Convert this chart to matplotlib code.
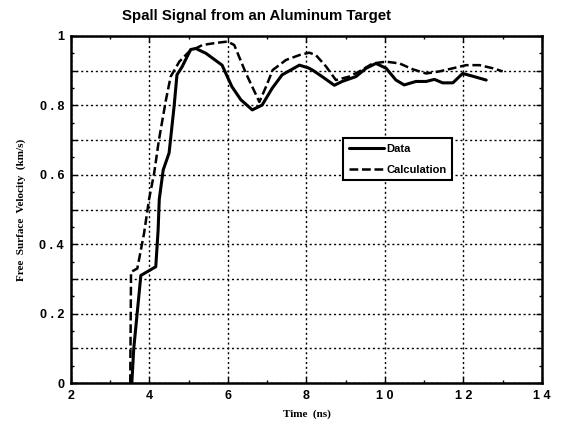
import numpy as np
import matplotlib
matplotlib.use("Agg")
import matplotlib.pyplot as plt
from matplotlib.ticker import MultipleLocator, FixedLocator

# Data (measured) curve
t_data = [3.55, 3.60, 3.78, 4.16, 4.22, 4.25, 4.35, 4.50, 4.63, 4.70, 4.83, 5.05,
          5.18, 5.44, 5.85, 6.10, 6.33, 6.62, 6.87, 7.13, 7.38, 7.82, 8.05, 8.15,
          8.40, 8.71, 8.91, 9.26, 9.52, 9.77, 10.03, 10.28, 10.49, 10.79, 11.05,
          11.26, 11.47, 11.73, 11.98, 12.24, 12.58]
v_data = [0.0, 0.10, 0.31, 0.335, 0.44, 0.53, 0.614, 0.663, 0.80, 0.888, 0.911, 0.961,
          0.964, 0.95, 0.916, 0.854, 0.816, 0.787, 0.801, 0.85, 0.888, 0.916, 0.908, 0.902,
          0.883, 0.858, 0.869, 0.883, 0.907, 0.921, 0.907, 0.873, 0.859, 0.869, 0.869,
          0.875, 0.865, 0.865, 0.892, 0.884, 0.873]

# Calculation curve
t_calc = [3.51, 3.53, 3.69, 3.86, 3.99, 4.12, 4.24, 4.42, 4.54, 4.76, 5.01, 5.35,
          5.69, 5.99, 6.16, 6.46, 6.80, 6.97, 7.14, 7.48, 7.82, 8.07, 8.24, 8.50,
          8.75, 9.09, 9.35, 9.69, 10.03, 10.37, 10.71, 11.05, 11.39, 11.73, 12.07,
          12.41, 12.75, 13.0]
v_calc = [0.0, 0.32, 0.33, 0.43, 0.53, 0.605, 0.70, 0.816, 0.883, 0.926, 0.955, 0.974,
          0.98, 0.984, 0.974, 0.892, 0.81, 0.854, 0.902, 0.931, 0.945, 0.952, 0.945, 0.912,
          0.873, 0.883, 0.898, 0.921, 0.926, 0.921, 0.904, 0.892, 0.898, 0.907, 0.916,
          0.916, 0.907, 0.898]

x_ticks = [2, 4, 6, 8, 10, 12, 14]
x_labels = ["2", "4", "6", "8", "1 0", "1 2", "1 4"]
y_ticks = [0, 0.1, 0.2, 0.3, 0.4, 0.5, 0.6, 0.7, 0.8, 0.9, 1.0]
y_labels = ["0", "", "0 . 2", "", "0 . 4", "", "0 . 6", "", "0 . 8", "", "1"]

tickfont = {"family": ["Liberation Sans", "DejaVu Sans"], "weight": "bold", "size": 9}
labfont = {"family": ["Liberation Serif", "DejaVu Serif"], "weight": "bold", "size": 8}

fig = plt.figure(figsize=(5.62, 4.25), dpi=100)
ax = fig.add_axes([0.1263, 0.0988, 0.838, 0.8165])

ax.plot(t_data, v_data, color="black", lw=2.2, label="Data",
        solid_joinstyle="round", solid_capstyle="round")
ax.plot(t_calc, v_calc, color="black", lw=1.8, dashes=(3.5, 1.5), label="Calculation",
        dash_joinstyle="round")

ax.set_xlim(2, 14)
ax.set_ylim(0, 1)
ax.xaxis.set_major_locator(FixedLocator(x_ticks))
ax.yaxis.set_major_locator(FixedLocator(y_ticks))
ax.xaxis.set_minor_locator(MultipleLocator(1))
ax.yaxis.set_minor_locator(MultipleLocator(0.05))
ax.set_xticklabels(x_labels, fontdict=tickfont)
ax.set_yticklabels(y_labels, fontdict=tickfont)
ax.tick_params(which="both", direction="in", top=True, right=True, width=1)
ax.tick_params(which="major", length=4, pad=5)
ax.tick_params(which="minor", length=2.5)
ax.grid(True, which="major", color="black", linestyle=(0, (1.5, 2)), linewidth=1)
for s in ax.spines.values():
    s.set_linewidth(1.8)

ax.set_xlabel("Time  (ns)", fontdict=labfont, labelpad=5)
ax.set_ylabel("Free  Surface  Velocity  (km/s)", fontdict=labfont, labelpad=10)
fig.text(0.457, 0.962, "Spall Signal from an Aluminum Target", ha="center", va="center",
         family=["Liberation Sans", "DejaVu Sans"], weight="bold", size=10.8)

leg = ax.legend(loc="upper left", bbox_to_anchor=(0.566, 0.722), fancybox=False,
                framealpha=1, edgecolor="black", handlelength=3.2, handletextpad=0.2,
                borderpad=0.5, labelspacing=1.0,
                prop={"family": ["Liberation Sans", "DejaVu Sans"], "weight": "bold", "size": 8})
leg.get_frame().set_linewidth(1.5)

fig.savefig("out.png", dpi=100)
